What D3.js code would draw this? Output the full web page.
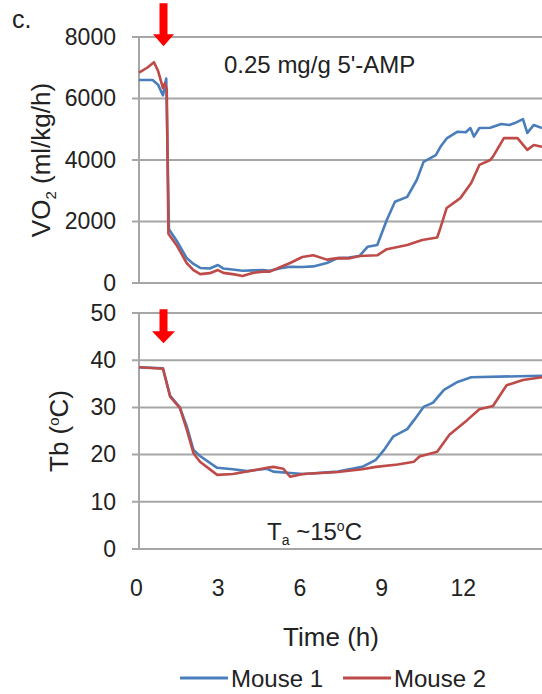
<!DOCTYPE html>
<html>
<head>
<meta charset="utf-8">
<script src="https://cdn.jsdelivr.net/npm/d3@7"></script>
<style>
  body { margin: 0; background: #fff; }
  svg { display: block; font-family: "Liberation Sans", Arial, sans-serif; }
  .tick text { fill: #222; }
</style>
</head>
<body>
<svg width="542" height="694"></svg>
<script>
// VO2 (ml/kg/h), mouse 1 and 2
const vo2Time1 = [0, 0.5, 0.7, 0.88, 1.0, 1.1, 1.4, 1.75, 2.0, 2.25, 2.6, 2.9, 3.1, 3.5, 3.8, 4.2, 4.55, 4.8, 5.2, 5.55, 6.0, 6.4, 6.9, 7.3, 7.7, 8.1, 8.4, 8.75, 9.1, 9.4, 9.85, 10.2, 10.45, 10.9, 11.07, 11.3, 11.7, 12.0, 12.17, 12.3, 12.5, 12.9, 13.3, 13.6, 13.8, 14.1, 14.26, 14.5, 14.8];
const vo2Mouse1 = [6600, 6600, 6450, 6100, 6650, 1750, 1350, 810, 620, 490, 470, 585, 470, 430, 400, 410, 420, 400, 480, 530, 520, 540, 650, 810, 830, 880, 1180, 1235, 2050, 2640, 2800, 3350, 3940, 4160, 4430, 4700, 4920, 4900, 5040, 4760, 5040, 5050, 5170, 5140, 5200, 5330, 4880, 5140, 5040];
const vo2Time2 = [0, 0.3, 0.55, 0.7, 0.88, 0.95, 1.02, 1.08, 1.4, 1.75, 2.0, 2.25, 2.6, 2.9, 3.1, 3.5, 3.8, 4.2, 4.55, 4.8, 5.2, 5.55, 6.0, 6.4, 6.9, 7.3, 7.7, 8.1, 8.75, 9.1, 9.85, 10.4, 10.95, 11.07, 11.3, 11.8, 12.2, 12.5, 12.9, 13.0, 13.4, 13.9, 14.26, 14.5, 14.8];
const vo2Mouse2 = [6840, 7000, 7180, 6900, 6340, 6500, 6300, 1600, 1200, 650, 420, 290, 320, 420, 330, 280, 230, 330, 370, 370, 520, 650, 845, 900, 760, 810, 800, 880, 900, 1100, 1235, 1400, 1480, 1790, 2440, 2760, 3250, 3840, 4000, 4110, 4710, 4710, 4330, 4490, 4430];

// body temperature Tb (°C), mouse 1 and 2
const tbTime1 = [0, 0.88, 1.14, 1.5, 1.76, 2.0, 2.24, 2.87, 3.45, 3.97, 4.7, 4.93, 5.55, 6.03, 7.3, 8.2, 8.7, 9.0, 9.33, 9.85, 10.1, 10.45, 10.8, 11.2, 11.7, 12.2, 14.8];
const tbMouse1 = [38.5, 38.3, 32.5, 30.0, 25.9, 21.0, 19.7, 17.2, 16.9, 16.5, 17.0, 16.4, 16.1, 15.9, 16.4, 17.4, 18.9, 21.0, 23.8, 25.4, 27.3, 30.1, 31.0, 33.7, 35.4, 36.4, 36.7];
const tbTime2 = [0, 0.88, 1.14, 1.5, 1.76, 2.0, 2.24, 2.87, 3.45, 3.97, 4.7, 4.93, 5.3, 5.55, 6.03, 7.3, 8.2, 8.7, 9.5, 10.1, 10.3, 10.95, 11.4, 12.05, 12.5, 13.0, 13.5, 14.1, 14.8];
const tbMouse2 = [38.5, 38.2, 32.3, 29.9, 25.2, 20.3, 18.5, 15.7, 15.9, 16.4, 17.2, 17.4, 17.0, 15.3, 15.9, 16.3, 16.9, 17.4, 17.9, 18.5, 19.6, 20.6, 24.2, 27.3, 29.6, 30.3, 34.7, 35.8, 36.4];

const xTicks = [0, 3, 6, 9, 12];
const vo2Ticks = [0, 2000, 4000, 6000, 8000];
const tbTicks = [0, 10, 20, 30, 40, 50];
const seriesNames = ['Mouse 1', 'Mouse 2'];
const injectionTime = 0.9;

const blue = '#4a7ebb';
const red = '#be4b48';
const grid = '#a6a6a6';

const svg = d3.select('svg');

const left = 139;
const right = 542;

const xScale = d3.scaleLinear().domain([0, 14.8]).range([left, right]);
const yVo2 = d3.scaleLinear().domain([0, 8000]).range([283, 37]);
const yTb = d3.scaleLinear().domain([0, 50]).range([549, 313]);

function panel(yScale, ticks) {
    const g = svg.append('g');
    // gridlines
    g.selectAll('line.grid').data(ticks)
        .enter().append('line')
        .attr('class', 'grid')
        .attr('x1', left - 7)
        .attr('x2', right)
        .attr('y1', d => yScale(d))
        .attr('y2', d => yScale(d))
        .attr('stroke', grid)
        .attr('stroke-width', 2);

    g.append('line')
        .attr('x1', left).attr('x2', left)
        .attr('y1', yScale(ticks[0])).attr('y2', yScale(ticks[ticks.length - 1]))
        .attr('stroke', grid)
        .attr('stroke-width', 2);

    const yAxis = d3.axisLeft(yScale)
        .tickValues(ticks)
        .tickFormat(d3.format('d'))
        .tickSize(0)
        .tickPadding(23);

    const yAxisG = g.append('g')
        .attr('transform', `translate(${left},0)`)
        .call(yAxis);
    yAxisG.select('.domain').remove();
    yAxisG.selectAll('text').attr('font-size', 23).attr('font-family', null);
    return g;
}

const vo2Panel = panel(yVo2, vo2Ticks);
const tbPanel = panel(yTb, tbTicks);

// x axis labels below the Tb panel
const xAxis = d3.axisBottom(xScale)
    .tickValues(xTicks)
    .tickSize(0)
    .tickPadding(31);
const xAxisG = svg.append('g')
    .attr('transform', `translate(0,${yTb(0)})`)
    .call(xAxis);
xAxisG.select('.domain').remove();
xAxisG.selectAll('text').attr('font-size', 23).attr('font-family', null).attr('dx', -3);

function drawLine(g, xs, ys, yScale, color) {
    const pts = xs.map((t, i) => [t, ys[i]]);
    const line = d3.line()
        .x(d => xScale(d[0]))
        .y(d => yScale(d[1]));
    g.append('path')
        .datum(pts)
        .attr('d', line)
        .attr('fill', 'none')
        .attr('stroke', color)
        .attr('stroke-width', 2.6)
        .attr('stroke-linejoin', 'round');
}

drawLine(vo2Panel, vo2Time1, vo2Mouse1, yVo2, blue);
drawLine(vo2Panel, vo2Time2, vo2Mouse2, yVo2, red);
drawLine(tbPanel, tbTime1, tbMouse1, yTb, blue);
drawLine(tbPanel, tbTime2, tbMouse2, yTb, red);

// red injection arrows
function arrow(yStart, yEnd, headW) {
    const cx = xScale(injectionTime);
    const headLen = 12;
    const shaft = 4;
    const pts = [
        [cx - shaft, yStart], [cx + shaft, yStart], [cx + shaft, yEnd - headLen],
        [cx + headW, yEnd - headLen], [cx, yEnd], [cx - headW, yEnd - headLen],
        [cx - shaft, yEnd - headLen]
    ];
    svg.append('path')
        .attr('d', d3.line()(pts) + 'Z')
        .attr('fill', '#ff0000');
}
arrow(yVo2(9100), yVo2(7700), 10.5);
arrow(yTb(50.8), yTb(43.6), 11.5);

// axis titles
const vo2Title = svg.append('text')
    .attr('transform', `translate(50,160) rotate(-90)`)
    .attr('text-anchor', 'middle')
    .attr('font-size', 26)
    .attr('fill', '#222');
vo2Title.append('tspan').text('VO');
vo2Title.append('tspan').attr('font-size', 15).attr('dy', 6).text('2');
vo2Title.append('tspan').attr('dy', -6).text(' (ml/kg/h)');

const tbTitle = svg.append('text')
    .attr('transform', `translate(68,431) rotate(-90)`)
    .attr('text-anchor', 'middle')
    .attr('font-size', 26)
    .attr('fill', '#222');
tbTitle.append('tspan').text('Tb (');
tbTitle.append('tspan').attr('font-size', 15).attr('dy', -9).text('o');
tbTitle.append('tspan').attr('dy', 9).text('C)');

svg.append('text')
    .attr('x', 331)
    .attr('y', 646)
    .attr('text-anchor', 'middle')
    .attr('font-size', 26)
    .attr('fill', '#222')
    .text('Time (h)');

// panel label and annotations
svg.append('text')
    .attr('x', 12).attr('y', 28)
    .attr('font-size', 25)
    .attr('fill', '#222')
    .text('c.');

svg.append('text')
    .attr('x', 224).attr('y', 73)
    .attr('font-size', 24)
    .attr('fill', '#222')
    .text("0.25 mg/g 5'-AMP");

const ta = svg.append('text')
    .attr('x', 267).attr('y', 540)
    .attr('font-size', 24)
    .attr('fill', '#222');
ta.append('tspan').text('T');
ta.append('tspan').attr('font-size', 14).attr('dy', 5).text('a');
ta.append('tspan').attr('dy', -5).text(' ~15');
ta.append('tspan').attr('font-size', 14).attr('dy', -9).text('o');
ta.append('tspan').attr('dy', 9).text('C');

// legend
const legend = svg.append('g');
const legendX = [180, 343];
[blue, red].forEach((c, i) => {
    legend.append('line')
        .attr('x1', legendX[i]).attr('x2', legendX[i] + 48)
        .attr('y1', 678).attr('y2', 678)
        .attr('stroke', c)
        .attr('stroke-width', 3);
    legend.append('text')
        .attr('x', legendX[i] + 51)
        .attr('y', 687)
        .attr('font-size', 24)
        .attr('fill', '#222')
        .text(seriesNames[i]);
});
</script>
</body>
</html>
